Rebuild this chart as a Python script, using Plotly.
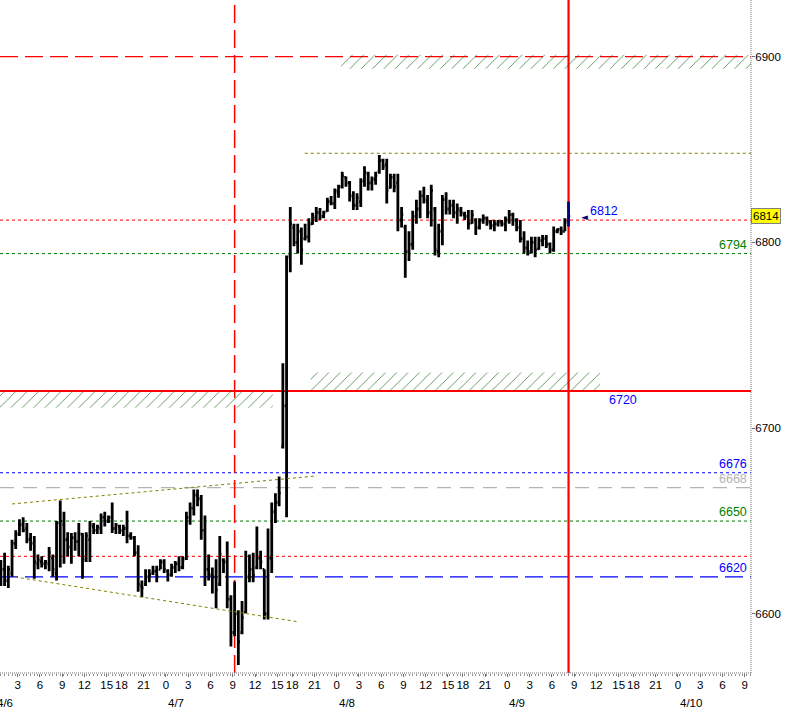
import plotly.graph_objects as go

# ---------------- data ----------------
# 30-minute bars, first bar on 4/6 ~01:00, last bar 4/9 08:00-08:30
bar_open = [
    6617, 6624, 6618, 6622, 6638, 6643, 6648, 6646, 6640, 6638,
    6627, 6628, 6627, 6627, 6630, 6622, 6649, 6648, 6640, 6636,
    6641, 6639, 6643, 6629, 6640, 6647, 6645, 6646, 6652, 6650,
    6652, 6646, 6647, 6645, 6646, 6642, 6641, 6633, 6615, 6616,
    6620, 6622, 6623, 6624, 6628, 6623, 6621, 6625, 6627, 6625,
    6630, 6652, 6657, 6664, 6662, 6645, 6624, 6621, 6620, 6616,
    6629, 6628, 6608, 6590, 6600, 6590, 6601, 6620, 6624, 6625,
    6630, 6624, 6600, 6630, 6655, 6660, 6690, 6712, 6793, 6808,
    6800, 6806, 6802, 6803, 6810, 6813, 6816, 6814, 6817, 6822,
    6821, 6827, 6830, 6835, 6832, 6825, 6820, 6822, 6833, 6837,
    6832, 6834, 6838, 6844, 6842, 6829.5, 6835, 6832, 6812, 6808,
    6795, 6799, 6814, 6818, 6825, 6822, 6816, 6818, 6795, 6806,
    6823, 6818, 6820, 6816, 6817, 6815, 6814, 6810.5, 6812, 6808,
    6812, 6813, 6811, 6809, 6810, 6811, 6810, 6812, 6815, 6812,
    6808, 6802, 6797, 6795, 6800, 6796.5, 6801, 6802, 6799, 6796,
    6806, 6807, 6806, 6812,
]
bar_high = [
    6629, 6633, 6626, 6640, 6645, 6651, 6652, 6649, 6643.5, 6642,
    6632, 6631, 6629, 6636, 6632, 6650, 6661, 6655, 6644, 6643.5,
    6644, 6649, 6643.5, 6644, 6650, 6649, 6648, 6654, 6655, 6653,
    6660, 6649, 6648, 6648, 6655.5, 6644, 6642, 6637, 6618, 6624,
    6624, 6626, 6626, 6629.5, 6629.5, 6624, 6627, 6628.5, 6631, 6631,
    6655, 6660, 6667, 6667, 6664, 6653, 6632, 6625, 6629.5, 6642,
    6630, 6639, 6610, 6617.5, 6602, 6607, 6634, 6632, 6633, 6647,
    6634, 6624, 6646, 6660, 6665, 6674, 6735, 6793, 6819, 6810,
    6810, 6808, 6810, 6813, 6816, 6819, 6818.5, 6817, 6824, 6825,
    6829, 6831, 6838, 6835.5, 6833, 6827.5, 6826.5, 6834.5, 6841, 6838,
    6835.5, 6838, 6847, 6845, 6845, 6837, 6837, 6837, 6819, 6809.5,
    6806, 6817, 6823, 6828, 6830, 6825.5, 6831, 6819, 6810, 6825.5,
    6827, 6823, 6823, 6821, 6819, 6816.5, 6817.5, 6817.5, 6813, 6813,
    6815, 6814, 6812, 6812, 6812, 6812, 6814, 6817.5, 6816, 6813,
    6812, 6806, 6801, 6803, 6803, 6803, 6804, 6804, 6800, 6808.5,
    6807.5, 6808.5, 6813, 6822,
]
bar_low = [
    6615, 6615, 6614, 6620, 6635, 6642, 6644, 6638, 6634, 6619,
    6624, 6625, 6624, 6623, 6620, 6618, 6625, 6627, 6631, 6627,
    6634, 6631, 6619, 6628, 6628, 6643, 6643, 6643, 6647, 6649,
    6643.5, 6643, 6643, 6642, 6638, 6640, 6631, 6612, 6609, 6615,
    6617, 6621, 6617, 6624, 6622, 6617.5, 6620, 6622, 6623, 6624,
    6629, 6648, 6653, 6658, 6640, 6615, 6618, 6611, 6603, 6615,
    6622, 6603, 6582.5, 6588, 6572.5, 6589, 6600.5, 6617, 6617, 6624,
    6624, 6597, 6597, 6622, 6649, 6658, 6689, 6652, 6784, 6798,
    6794, 6788, 6801, 6800, 6809.5, 6811, 6812, 6813, 6816.5, 6820,
    6818, 6824, 6829, 6830, 6822, 6817.5, 6817.5, 6819, 6830, 6828,
    6828, 6831, 6837, 6839, 6821, 6829, 6827, 6806, 6808, 6781,
    6790, 6796, 6810, 6813, 6821, 6813, 6808.5, 6793, 6792, 6798.5,
    6815, 6815, 6813, 6810, 6814, 6812, 6807, 6810, 6804, 6807,
    6810, 6809, 6807, 6806, 6808.5, 6808.5, 6806, 6810, 6809, 6806,
    6800, 6794, 6793, 6794, 6792, 6796, 6798, 6797, 6794, 6795,
    6805, 6804, 6806, 6808.5,
]
bar_close = [
    6624, 6618, 6624, 6638, 6643, 6648, 6645, 6640, 6638, 6628,
    6629, 6627, 6628, 6633, 6624, 6649, 6650, 6640, 6636, 6641,
    6639, 6643, 6630, 6642, 6648, 6645, 6647, 6652, 6650, 6652,
    6646, 6648, 6645, 6646, 6642, 6641, 6633, 6616, 6614, 6620,
    6621, 6623, 6620, 6628, 6624, 6621, 6625, 6627, 6625, 6629,
    6652, 6657, 6664, 6662, 6645, 6624, 6621, 6620, 6613, 6632,
    6628, 6608, 6590, 6600, 6585, 6598, 6620, 6624, 6621, 6630,
    6628, 6600, 6630, 6655, 6660, 6665, 6712, 6792, 6810, 6800,
    6806, 6796, 6803, 6810, 6814, 6816, 6814, 6816, 6822, 6821,
    6828, 6830, 6836, 6832, 6825, 6820, 6824, 6833, 6838, 6832,
    6834, 6836, 6844, 6841, 6828, 6835, 6830, 6812, 6815, 6795,
    6799, 6814, 6818, 6825, 6823, 6816, 6828, 6796, 6806, 6823,
    6818, 6820, 6816, 6818, 6816, 6814, 6810, 6815, 6808, 6812,
    6813, 6811, 6809, 6810, 6811, 6810, 6812, 6815, 6812, 6808,
    6802, 6797, 6795, 6800, 6796, 6801, 6802, 6799, 6796, 6806,
    6807, 6806, 6811, 6814,
]

day_labels = ["4/6", "4/7", "4/8", "4/9", "4/10"]
hour_ticks = [0, 3, 6, 9, 12, 15, 18, 21]
price_ticks = [6600, 6700, 6800, 6900]

# horizontal levels
level_prices = [6900, 6848, 6812, 6794, 6720, 6676, 6668, 6650, 6631, 6620]
label_prices = [6794, 6676, 6668, 6650, 6620]
pivot_label = 6720
last_marker = 6812
last_price = 6814

# trend lines (axis hour, price)
upper_trend_t = [-20.75, 20.35]
upper_trend_p = [6659.2, 6674.3]
lower_trend_t = [-20.35, 17.9]
lower_trend_p = [6619.9, 6595.7]
resistance_start_t = 18.7

# hatched zones: (t0, t1, p0, p1)
zone_left = (-23.0, 14.4, 6711, 6720)
zone_mid = (19.5, 58.5, 6720, 6730)
zone_top = (23.6, 80.0, 6893.5, 6901)

# ---------------- axis geometry ----------------
SESSION_HOURS = 23          # one hour of break per day is removed from the axis
FIRST_BAR_T = -22.25        # axis position of first bar (4/7 00:00 == 0)
BAR_STEP = 0.5
X_RANGE = [-22.37, 78.84]
Y_RANGE = [6568.2, 6930.5]
DASH_VLINE_T = 9.25         # 4/7 09:00 bar


def axis_pos(day_index, hour):
    return SESSION_HOURS * day_index + (hour if hour <= 16 else hour - 1)


bar_t = [FIRST_BAR_T + BAR_STEP * i for i in range(len(bar_open))]
last_t = bar_t[-1]

tickvals, ticktext = [], []
for d in range(len(day_labels)):
    for h in hour_ticks:
        p = axis_pos(d - 1, h)
        if X_RANGE[0] - 0.01 <= p <= X_RANGE[1] + 0.01:
            tickvals.append(p)
            ticktext.append(str(h))


def to_paper_x(t):
    return (t - X_RANGE[0]) / (X_RANGE[1] - X_RANGE[0])


FONT = "Liberation Sans"
fig = go.Figure()

# hatched zones
for (t0, t1, p0, p1) in [zone_left, zone_mid, zone_top]:
    fig.add_trace(go.Scatter(
        x=[t0, t1, t1, t0, t0], y=[p0, p0, p1, p1, p0], mode="lines",
        fill="toself", fillcolor="rgba(255,255,255,0)",
        line=dict(width=0, color="rgba(0,0,0,0)"),
        fillpattern=dict(shape="/", fgcolor="#005a00", fgopacity=1,
                         bgcolor="rgba(255,255,255,0)",
                         size=8, solidity=0.075, fillmode="replace"),
        hoverinfo="skip", showlegend=False))

# trend lines
for tt, pp in [(upper_trend_t, upper_trend_p), (lower_trend_t, lower_trend_p)]:
    fig.add_trace(go.Scatter(x=tt, y=pp, mode="lines",
                             line=dict(color="#808000", width=1, dash="3px,3px"),
                             hoverinfo="skip", showlegend=False))

# price bars
bar_style = dict(line=dict(color="black", width=2.8))
fig.add_trace(go.Ohlc(x=bar_t[:-1], open=bar_open[:-1], high=bar_high[:-1],
                      low=bar_low[:-1], close=bar_close[:-1],
                      increasing=bar_style, decreasing=bar_style,
                      tickwidth=0.45, hoverinfo="skip", showlegend=False))
last_style = dict(line=dict(color="#000080", width=2.8))
fig.add_trace(go.Ohlc(x=[last_t], open=[bar_open[-1]], high=[bar_high[-1]],
                      low=[bar_low[-1]], close=[bar_close[-1]],
                      increasing=last_style, decreasing=last_style,
                      tickwidth=0.45, hoverinfo="skip", showlegend=False))

# level line styles (same order as level_prices)
level_styles = [
    dict(color="#ff0000", width=1.2, dash="18px,7px"),
    dict(color="#808000", width=1, dash="3px,3px"),
    dict(color="#ff0000", width=1, dash="3px,3px"),
    dict(color="#008000", width=1, dash="3px,3px"),
    dict(color="#ff0000", width=2.2, dash="solid"),
    dict(color="#0000ff", width=1, dash="3px,3px"),
    dict(color="#b4b4b4", width=1.2, dash="14px,9px"),
    dict(color="#008000", width=1, dash="3px,3px"),
    dict(color="#ff0000", width=1, dash="3px,3px"),
    dict(color="#0000ff", width=1.2, dash="18px,7px"),
]
shapes = []
for price, st in zip(level_prices, level_styles):
    if price == level_prices[1]:
        shapes.append(dict(type="line", xref="x", yref="y", x0=resistance_start_t,
                           x1=X_RANGE[1] + 2, y0=price, y1=price, line=st, layer="below"))
    else:
        shapes.append(dict(type="line", xref="paper", yref="y", x0=0, x1=1,
                           y0=price, y1=price, line=st, layer="below"))
# vertical lines
shapes.append(dict(type="line", xref="x", yref="paper", x0=DASH_VLINE_T, x1=DASH_VLINE_T,
                   y0=0, y1=1, line=dict(color="#ff0000", width=1.5, dash="18px,7px"),
                   layer="below"))
shapes.append(dict(type="line", xref="x", yref="paper", x0=last_t, x1=last_t,
                   y0=0, y1=1, line=dict(color="#ff0000", width=2.2), layer="below"))
# dotted axis frame
shapes.append(dict(type="line", xref="paper", yref="paper", x0=1, x1=1, y0=0, y1=1,
                   line=dict(color="#707070", width=1, dash="1px,1px")))
shapes.append(dict(type="line", xref="paper", yref="paper", x0=0, x1=1, y0=0, y1=0,
                   line=dict(color="#707070", width=1, dash="1px,1px")))

annotations = []
label_colors = ["#008000", "#0000ff", "#b4b4b4", "#008000", "#0000ff"]
for price, col in zip(label_prices, label_colors):
    annotations.append(dict(xref="paper", yref="y", x=0.997, y=price, text=str(price),
                            showarrow=False, xanchor="right", yanchor="bottom",
                            font=dict(family=FONT, size=12.5, color=col)))
annotations.append(dict(xref="x", yref="y", x=59.4, y=pivot_label, text=str(pivot_label),
                        showarrow=False, xanchor="left", yanchor="top",
                        font=dict(family=FONT, size=12.5, color="#0000ff")))
annotations.append(dict(xref="x", yref="y", x=56.9, y=last_marker, text=str(last_marker),
                        showarrow=False, xanchor="left", yanchor="bottom",
                        font=dict(family=FONT, size=12.5, color="#0000ff")))
annotations.append(dict(xref="x", yref="y", x=55.6, y=last_marker + 1.5, text="◄",
                        showarrow=False, xanchor="left", yanchor="middle",
                        font=dict(family="DejaVu Sans", size=9, color="#000080")))
annotations.append(dict(xref="paper", yref="y", x=1.0, y=last_price, text=str(last_price),
                        showarrow=False, xanchor="left", yanchor="middle",
                        bgcolor="#ffff00", bordercolor="#808080", borderwidth=1, borderpad=1,
                        font=dict(family=FONT, size=11.5, color="black")))
for d, lab in enumerate(day_labels):
    annotations.append(dict(xref="paper", yref="paper", x=to_paper_x(axis_pos(d - 1, 0)),
                            y=0, yshift=-22, text=lab, showarrow=False,
                            xanchor="left", yanchor="top",
                            font=dict(family=FONT, size=11.5, color="black")))

fig.update_layout(
    width=791, height=718,
    margin=dict(l=0, r=40, t=0, b=45),
    paper_bgcolor="white", plot_bgcolor="white",
    showlegend=False,
    shapes=shapes, annotations=annotations,
    xaxis=dict(range=X_RANGE, tickmode="array", tickvals=tickvals, ticktext=ticktext,
               ticks="outside", ticklen=3, tickcolor="#707070", showgrid=False,
               zeroline=False, showline=False, rangeslider=dict(visible=False),
               ticklabelstandoff=-2,
               tickfont=dict(family=FONT, size=11.5, color="black"),
               minor=dict(tickmode="linear", tick0=0.25, dtick=0.5, ticks="outside",
                          ticklen=2, tickcolor="#909090", showgrid=False)),
    yaxis=dict(range=Y_RANGE, side="right", tickmode="array", tickvals=price_ticks,
               ticks="outside", ticklen=3, tickcolor="#707070", showgrid=False,
               zeroline=False, showline=False, ticklabelstandoff=-2,
               tickfont=dict(family=FONT, size=11.5, color="black")),
)

fig.write_html("out.html", config={"displayModeBar": False},
               post_script="document.body.style.margin='0';document.body.style.overflow='hidden';")
